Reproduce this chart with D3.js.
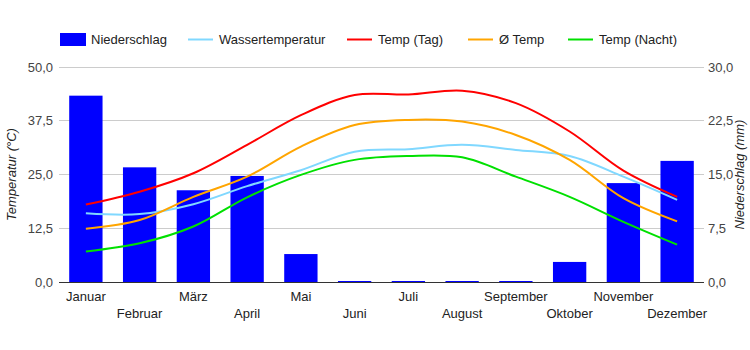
<!DOCTYPE html>
<html><head><meta charset="utf-8">
<script src="https://cdn.jsdelivr.net/npm/d3@7"></script>
<style>body{margin:0;background:#fff;}svg{display:block;font-family:"Liberation Sans",Arial,sans-serif;}</style>
</head><body><svg id="c" width="750" height="350"></svg>
<script>
const months = ["Januar","Februar","März","April","Mai","Juni","Juli","August","September","Oktober","November","Dezember"];
const niederschlag = [26,16,12.8,14.8,3.9,0,0,0,0,2.8,13.8,16.9];
const wassertemp = [16,15.8,18.1,22.3,26,30.3,30.9,31.9,30.7,29.3,24.5,19.1];
const tempTag = [18,21,25.3,31.9,38.8,43.5,43.6,44.5,41.6,35,25.9,19.8];
const tempAvg = [12.4,14.4,19.8,24.5,31.5,36.5,37.7,37.3,34.2,28.4,19.5,14.1];
const tempNacht = [7.1,9,12.9,19.7,24.9,28.4,29.3,29,24.5,19.8,14,8.7];
const leftTicks = [0,12.5,25,37.5,50];
const rightTicks = [0,7.5,15,22.5,30];

const svg = d3.select("#c");
const L=59, R=704, T=67, B=282;
const x = d3.scaleBand().domain(months).range([L,R]).paddingInner(0.38).paddingOuter(0.19);
const xc = d => x(d)+x.bandwidth()/2;
const yL = d3.scaleLinear().domain([0,50]).range([B,T]);
const yR = d3.scaleLinear().domain([0,30]).range([B,T]);
const fmt = v => d3.format(".1f")(v).replace(".",",");

// gridlines
svg.append("g").selectAll("line").data(leftTicks.slice(1)).join("line")
  .attr("x1",L).attr("x2",R).attr("y1",d=>yL(d)).attr("y2",d=>yL(d))
  .attr("stroke","#cccccc").attr("stroke-width",1).attr("shape-rendering","crispEdges");

// left axis labels
svg.append("g").selectAll("text").data(leftTicks).join("text")
  .attr("x",L-6).attr("y",d=>yL(d)+4.5).attr("text-anchor","end")
  .attr("font-size",13).attr("fill","#444").text(fmt);
// right axis labels
svg.append("g").selectAll("text").data(rightTicks).join("text")
  .attr("x",R+4).attr("y",d=>yR(d)+4.5).attr("text-anchor","start")
  .attr("font-size",13).attr("fill","#444").text(fmt);

// bars
svg.append("g").selectAll("rect").data(months).join("rect")
  .attr("x",d=>x(d)).attr("width",x.bandwidth())
  .attr("y",(d,i)=>Math.min(yR(niederschlag[i]),B-1))
  .attr("height",(d,i)=>Math.max(B-yR(niederschlag[i]),1))
  .attr("fill","#0000ff");

// baseline
svg.append("line").attr("x1",L).attr("x2",R).attr("y1",B).attr("y2",B)
  .attr("stroke","#333").attr("stroke-width",1).attr("shape-rendering","crispEdges");

// lines
const series = [
  {vals:wassertemp,color:"#80d8ff"},
  {vals:tempTag,color:"#ff0000"},
  {vals:tempAvg,color:"#ffa500"},
  {vals:tempNacht,color:"#00e000"}
];
const line = d3.line().x((d,i)=>xc(months[i])).y(d=>yL(d)).curve(d3.curveCatmullRom.alpha(0.5));
series.forEach(s=>{
  svg.append("path").attr("d",line(s.vals)).attr("fill","none")
    .attr("stroke",s.color).attr("stroke-width",2);
});

// x labels
svg.append("g").selectAll("text").data(months).join("text")
  .attr("x",d=>xc(d)).attr("y",(d,i)=> i%2===0 ? 301 : 318)
  .attr("text-anchor","middle").attr("font-size",13).attr("fill","#222").text(d=>d);

// axis titles
svg.append("text").attr("transform",`translate(16,${(T+B)/2}) rotate(-90)`)
  .attr("text-anchor","middle").attr("font-size",13).attr("font-style","italic").attr("fill","#222")
  .text("Temperatur (°C)");
svg.append("text").attr("transform",`translate(744,${(T+B)/2}) rotate(-90)`)
  .attr("text-anchor","middle").attr("font-size",13).attr("font-style","italic").attr("fill","#222")
  .text("Niederschlag (mm)");

// legend
const legend = [
  {name:"Niederschlag",type:"rect",color:"#0000ff",x:60},
  {name:"Wassertemperatur",type:"line",color:"#80d8ff",x:188},
  {name:"Temp (Tag)",type:"line",color:"#ff0000",x:347},
  {name:"Ø Temp",type:"line",color:"#ffa500",x:468},
  {name:"Temp (Nacht)",type:"line",color:"#00e000",x:568}
];
const lg = svg.append("g");
legend.forEach(l=>{
  if(l.type==="rect"){
    lg.append("rect").attr("x",l.x).attr("y",33).attr("width",26).attr("height",13).attr("fill",l.color);
  } else {
    lg.append("line").attr("x1",l.x).attr("x2",l.x+25).attr("y1",39.5).attr("y2",39.5)
      .attr("stroke",l.color).attr("stroke-width",2);
  }
  lg.append("text").attr("x",l.x+31).attr("y",44).attr("font-size",13).attr("fill","#222").text(l.name);
});
</script></body></html>
